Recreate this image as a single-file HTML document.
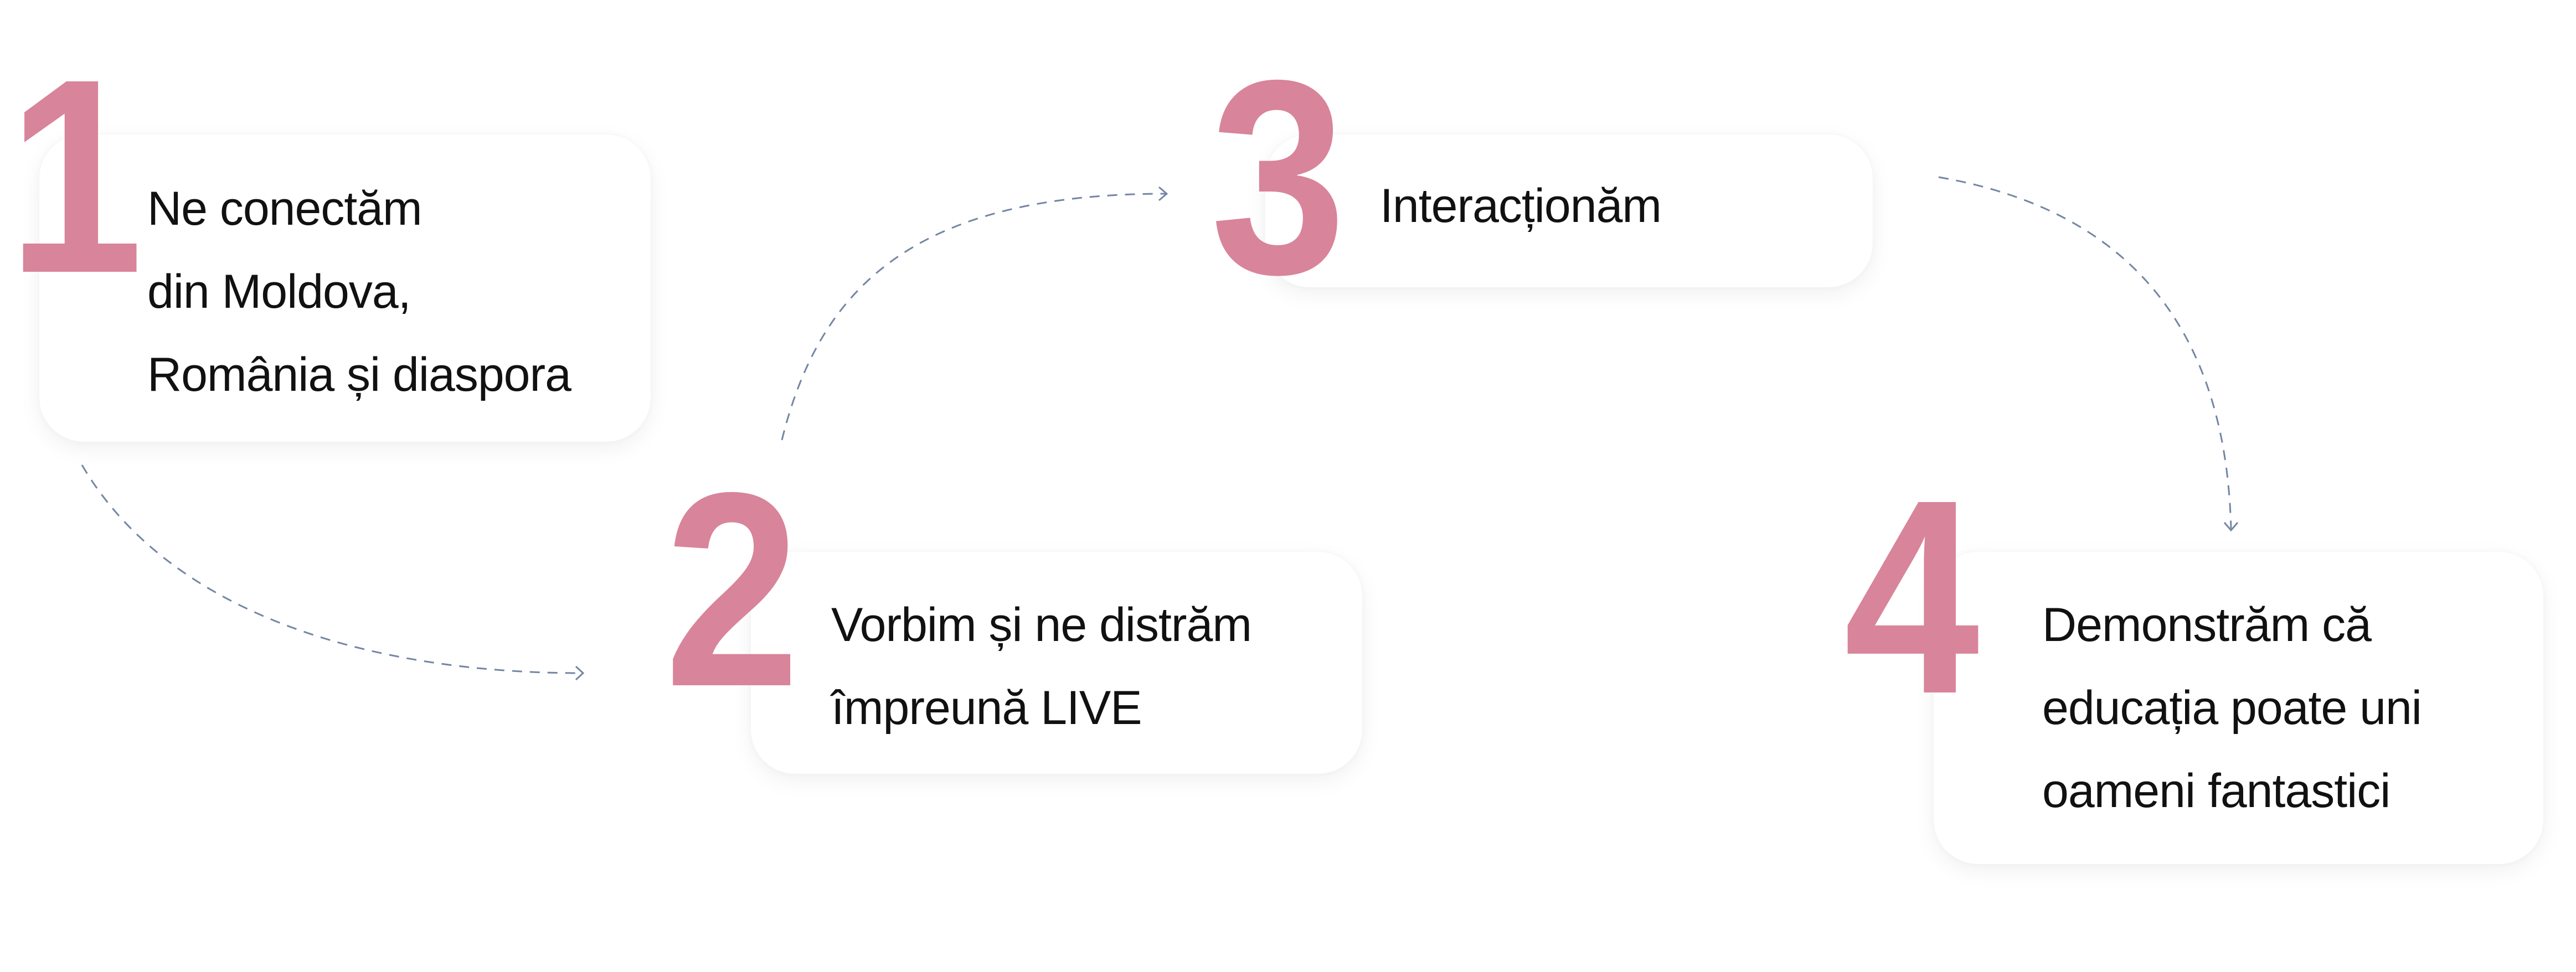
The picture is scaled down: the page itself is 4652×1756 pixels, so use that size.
<!DOCTYPE html>
<html><head><meta charset="utf-8"><style>
html,body{margin:0;padding:0;background:#fff;}
body{width:4652px;height:1756px;position:relative;overflow:hidden;font-family:"Liberation Sans",sans-serif;}
.box{position:absolute;background:#fff;border-radius:80px;box-shadow:0 12px 40px rgba(0,0,0,0.06),0 0 12px rgba(0,0,0,0.03);}
.num{position:absolute;color:#d8849a;font-weight:bold;font-size:500px;line-height:1;transform:scaleX(0.88);transform-origin:left top;}
.t{position:absolute;color:#111;font-size:86px;line-height:150px;white-space:nowrap;letter-spacing:-1px;}
svg{position:absolute;left:0;top:0;}
</style></head><body>
<div class="box" style="left:71px;top:243px;width:1104px;height:555px"></div>
<div class="box" style="left:1356px;top:997px;width:1104px;height:401px"></div>
<div class="box" style="left:2285px;top:243px;width:1097px;height:276px"></div>
<div class="box" style="left:3492px;top:997px;width:1101px;height:564px"></div>

<div class="num" style="left:14px;top:68px">1</div>
<div class="num" style="left:1200px;top:815px">2</div>
<div class="num" style="left:2186px;top:70px">3</div>
<div class="num" style="left:3330px;top:828px">4</div>

<div class="t" style="left:266px;top:302px">Ne conectăm<br>din Moldova,<br>România și diaspora</div>
<div class="t" style="left:1501px;top:1054px">Vorbim și ne distrăm<br>împreună LIVE</div>
<div class="t" style="left:2492px;top:297px">Interacționăm</div>
<div class="t" style="left:3688px;top:1054px">Demonstrăm că<br>educația poate uni<br>oameni fantastici</div>

<svg width="4652" height="1756" fill="none" stroke="#7486a3" stroke-width="3">
<path d="M148 840 C300 1100 650 1216 1050 1216" stroke-dasharray="18 14"/>
<path d="M1040 1204 L1053 1216 L1040 1228"/>
<path d="M1412 795 C1480 520 1650 350 2105 350" stroke-dasharray="18 14"/>
<path d="M2093 338 L2107 350 L2093 362"/>
<path d="M3501 320 C3850 380 4020 600 4029 955" stroke-dasharray="18 14"/>
<path d="M4017 944 L4029 958 L4041 944"/>
</svg>
</body></html>
